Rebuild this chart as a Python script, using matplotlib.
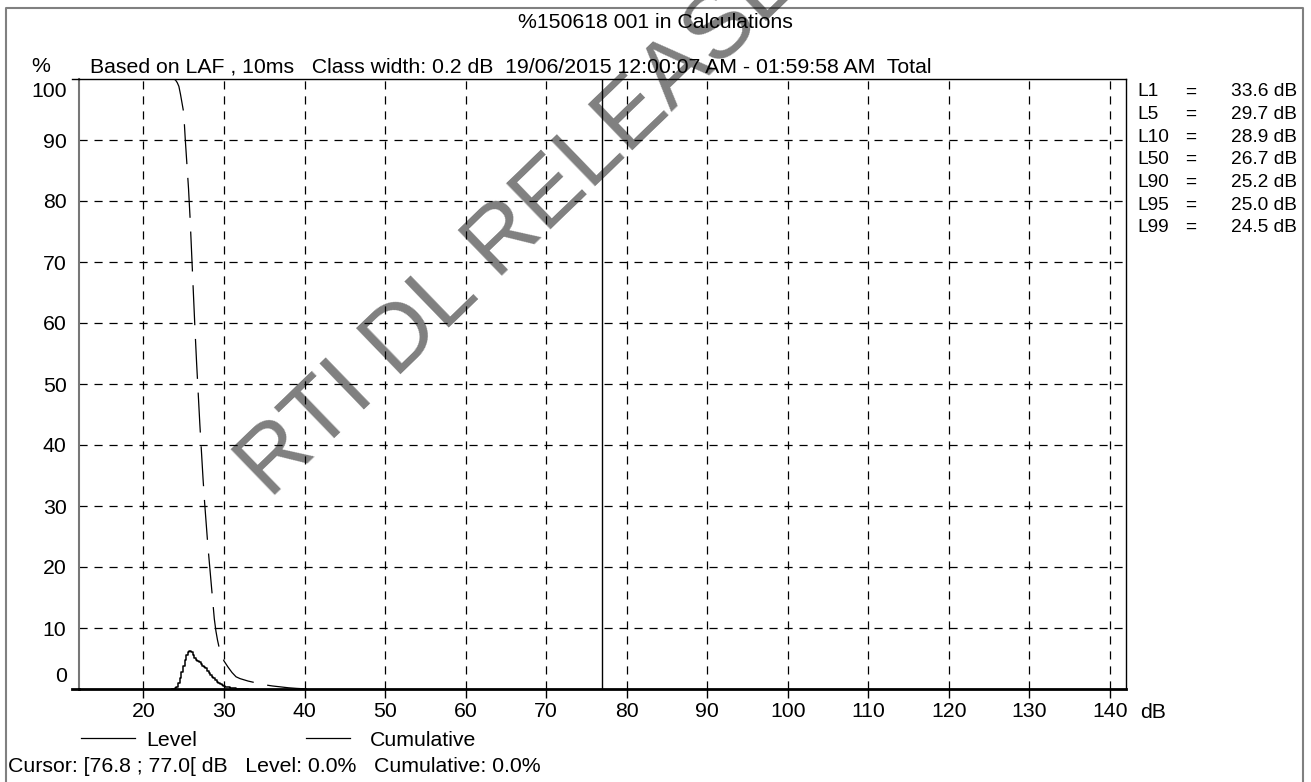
import matplotlib
matplotlib.use("Agg")
import matplotlib.pyplot as plt
from matplotlib.lines import Line2D

plt.rcParams['font.family'] = ['Liberation Sans', 'DejaVu Sans']
FS = 15.3

# Level distribution, class width 0.2 dB (bin centres)
level_db = [23.6, 23.8, 24.0, 24.2, 24.4, 24.6, 24.8, 25.0, 25.2, 25.4,
            25.6, 25.8, 26.0, 26.2, 26.4, 26.6, 26.8, 27.0, 27.2, 27.4,
            27.6, 27.8, 28.0, 28.2, 28.4, 28.6, 28.8, 29.0, 29.2, 29.4,
            29.6, 29.8, 30.0, 30.2, 30.4, 30.6, 30.8, 31.0, 31.2, 31.4,
            31.6, 31.8, 32.0, 32.2, 32.4, 32.6, 32.8, 33.0]
level_pct = [0.0, 0.0, 0.1, 0.4, 1.0, 1.8, 2.8, 3.8, 4.7, 5.5,
             6.0, 6.3, 6.1, 5.6, 5.1, 4.8, 4.6, 4.4, 4.1, 3.8,
             3.6, 3.4, 3.0, 2.7, 2.3, 2.0, 1.8, 1.5, 1.2, 1.0,
             0.8, 0.7, 0.5, 0.4, 0.3, 0.25, 0.2, 0.15, 0.12, 0.1,
             0.08, 0.07, 0.05, 0.04, 0.03, 0.02, 0.01, 0.0]

# Cumulative (percent exceeding level)
cum_db = [23.0, 23.8, 24.0, 24.2, 24.4, 24.6, 24.8, 25.0, 25.2, 25.4,
          25.6, 25.8, 26.0, 26.2, 26.4, 26.6, 26.8, 27.0, 27.2, 27.4,
          27.6, 27.8, 28.0, 28.2, 28.4, 28.6, 28.8, 29.0, 29.2, 29.4,
          29.6, 29.8, 30.0, 30.5, 31.0, 31.5, 32.0, 33.0, 34.0, 35.0,
          36.0, 37.0, 38.0, 39.0, 40.0, 41.0]
cum_pct = [100, 100, 99.8, 99.4, 98.8, 97.5, 96.0, 94.5, 90.0, 86.0,
           82.0, 77.0, 71.0, 65.0, 59.0, 53.5, 48.5, 43.5, 39.0, 34.5,
           30.5, 27.0, 23.5, 20.5, 17.5, 14.5, 11.5, 9.5, 8.0, 6.8,
           6.0, 5.3, 4.6, 3.6, 2.7, 2.0, 1.7, 1.3, 1.0, 0.7,
           0.5, 0.35, 0.2, 0.1, 0.03, 0.0]

x_ticks = [20, 30, 40, 50, 60, 70, 80, 90, 100, 110, 120, 130, 140]
y_ticks = [10, 20, 30, 40, 50, 60, 70, 80, 90]
cursor_db = 76.9

stat_names = ['L1', 'L5', 'L10', 'L50', 'L90', 'L95', 'L99']
stat_vals = ['33.6 dB', '29.7 dB', '28.9 dB', '26.7 dB', '25.2 dB', '25.0 dB', '24.5 dB']

W, H = 1311, 782
fx = lambda x: x / W
fy = lambda y: 1 - y / H

fig = plt.figure(figsize=(W / 100, H / 100), dpi=100)
ax = fig.add_axes([fx(79), fy(689), (1126 - 79) / W, (689 - 79) / H])

ax.plot(level_db, level_pct, color='black', lw=1.1, drawstyle='steps-mid')
ax.plot(cum_db, cum_pct, color='black', lw=0.9, dashes=(32, 11))
ax.axvline(cursor_db, color='black', lw=1)

ax.set_xlim(12, 142)
ax.set_ylim(0, 100)
ax.set_xticks(x_ticks)
ax.set_xticklabels([str(v) for v in x_ticks], fontsize=FS)
ax.set_yticks(y_ticks)
ax.set_yticklabels([str(v) for v in y_ticks], fontsize=FS)
ax.tick_params(axis='x', direction='out', length=6.5, width=1, pad=3)
ax.tick_params(axis='y', length=0, pad=9)
ax.grid(True, color='black', lw=0.9, linestyle=(0, (6.5, 5.5)))

# 0 and 100 labels sit inside the axis range
ax.annotate('100', xy=(0, 100), xycoords=('axes fraction', 'data'), xytext=(-9, -9),
            textcoords='offset points', ha='right', va='center', fontsize=FS)
ax.annotate('0', xy=(0, 0), xycoords=('axes fraction', 'data'), xytext=(-9, 9),
            textcoords='offset points', ha='right', va='center', fontsize=FS)

for side in ['top', 'right']:
    ax.spines[side].set_linewidth(1)
ax.spines['left'].set_color('#777777')
ax.spines['left'].set_linewidth(1.5)
ax.spines['bottom'].set_linewidth(2)

# short stubs of the top and bottom frame lines left of the axis
for yy in (79, 689):
    fig.add_artist(Line2D([fx(72), fx(79)], [fy(yy), fy(yy)], color='black',
                          lw=1 if yy == 79 else 2, transform=fig.transFigure))

# figure border
fig.add_artist(Line2D([fx(6), fx(6), fx(1303), fx(1303)], [0, fy(8), fy(8), 0],
                      color='#808080', lw=1.5, transform=fig.transFigure))

fig.text(fx(655), fy(22), '%150618 001 in Calculations', ha='center', va='center', fontsize=FS)
fig.text(fx(50), fy(67), '%', ha='right', va='center', fontsize=FS)
fig.text(fx(90), fy(67),
         'Based on LAF , 10ms   Class width: 0.2 dB  19/06/2015 12:00:07 AM - 01:59:58 AM  Total',
         ha='left', va='center', fontsize=FS)

SFS = 13.8
for i, (n, v) in enumerate(zip(stat_names, stat_vals)):
    y = 92 + i * 22.6
    fig.text(fx(1137), fy(y), n, ha='left', va='center', fontsize=SFS)
    fig.text(fx(1191), fy(y), '=', ha='center', va='center', fontsize=SFS)
    fig.text(fx(1297), fy(y), v, ha='right', va='center', fontsize=SFS)

fig.text(fx(1140), fy(713), 'dB', ha='left', va='center', fontsize=FS)

# legend
fig.add_artist(Line2D([fx(81), fx(135)], [fy(738), fy(738)], color='black', lw=0.9,
                      transform=fig.transFigure))
fig.text(fx(146), fy(740), 'Level', ha='left', va='center', fontsize=FS)
fig.add_artist(Line2D([fx(306), fx(350)], [fy(738), fy(738)], color='black', lw=0.9,
                      transform=fig.transFigure))
fig.text(fx(370), fy(740), 'Cumulative', ha='left', va='center', fontsize=FS)

fig.text(fx(8), fy(766), 'Cursor: [76.8 ; 77.0[ dB   Level: 0.0%   Cumulative: 0.0%',
         ha='left', va='center', fontsize=FS)

# watermark
fig.text(fx(270), fy(500), 'RTI DL RELEASE', fontsize=67, color='black', alpha=0.5,
         rotation=44, rotation_mode='anchor', ha='left', va='baseline')

fig.savefig('out.png', dpi=100)
